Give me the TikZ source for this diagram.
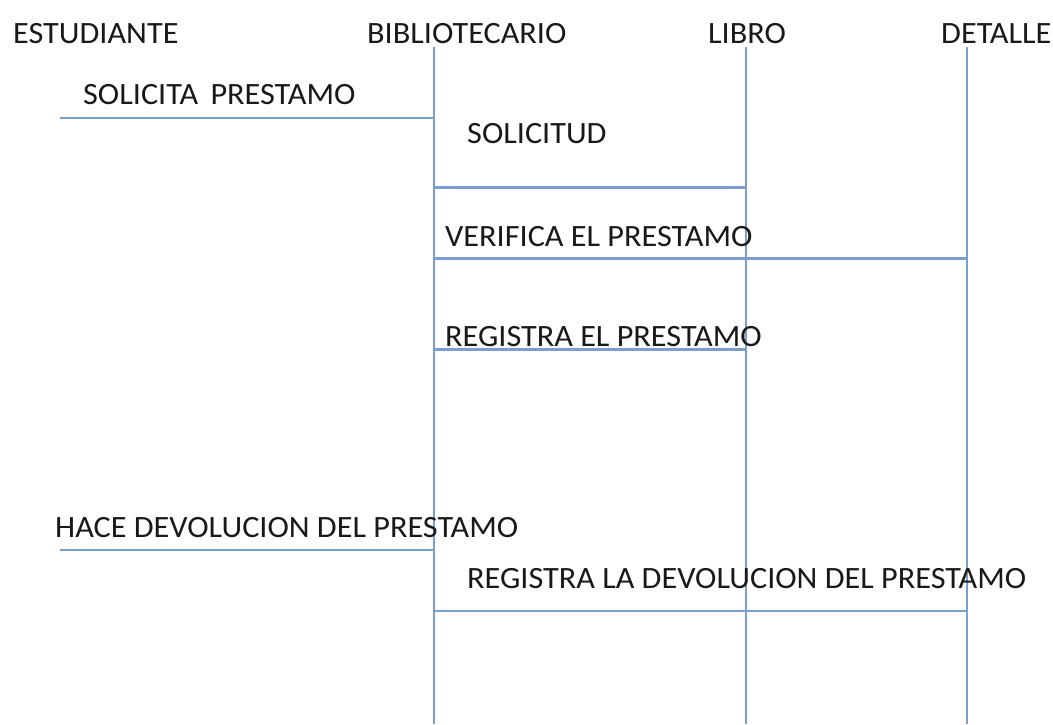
\documentclass[tikz,border=0pt]{standalone}
\usepackage{fontspec}
\setmainfont[FakeStretch=1.04]{Carlito}
\definecolor{lineblue}{RGB}{122,158,208}
\begin{document}
\begin{tikzpicture}[x=1pt,y=-1pt,
  lbl/.style={anchor=base west,inner sep=0pt,font=\fontsize{31}{36}\selectfont,text=black!90},
  lifeline/.style={draw=lineblue,line width=2pt},
  msg/.style={draw=lineblue,line width=2.8pt}]
\useasboundingbox[fill=white] (0,0) rectangle (1053,724);
% headers
\node[lbl] (hest) at (13,43.5) {ESTUDIANTE};
\node[lbl] (hbib) at (367,43.5) {BIBLIOTECARIO};
\node[lbl] (hlib) at (708,43.5) {LIBRO};
\node[lbl] (hdet) at (941,43.5) {DETALLE};
% lifelines
\coordinate (bt) at (434,47); \coordinate (bb) at (434,724);
\coordinate (lt) at (745.5,47); \coordinate (lb) at (745.5,724);
\coordinate (dt) at (966.5,47); \coordinate (db) at (966.5,724);
\draw[lifeline] (bt) -- (bb);
\draw[lifeline] (lt) -- (lb);
\draw[lifeline] (dt) -- (db);
% message end points
\coordinate (m1a) at (60,118);  \coordinate (m1b) at (434,118);
\coordinate (m2a) at (434,187.5); \coordinate (m2b) at (745.5,187.5);
\coordinate (m3a) at (434,258.5); \coordinate (m3b) at (966.5,258.5);
\coordinate (m4a) at (434,349.5); \coordinate (m4b) at (745.5,349.5);
\coordinate (m5a) at (60,550);  \coordinate (m5b) at (434,550);
\coordinate (m6a) at (434,611); \coordinate (m6b) at (966.5,611);
\draw[msg] (m1a) -- (m1b);
\draw[msg] (m2a) -- (m2b);
\draw[msg] (m3a) -- (m3b);
\draw[msg] (m4a) -- (m4b);
\draw[msg] (m5a) -- (m5b);
\draw[msg] (m6a) -- (m6b);
% message labels
\node[lbl] (t1) at (83,104) {SOLICITA\hspace{0.4em}PRESTAMO};
\node[lbl] (t2) at (467,143) {SOLICITUD};
\node[lbl] (t3) at (445,246) {VERIFICA EL PRESTAMO};
\node[lbl] (t4) at (445,346) {REGISTRA EL PRESTAMO};
\node[lbl] (t5) at (55,537) {HACE DEVOLUCION DEL PRESTAMO};
\node[lbl] (t6) at (467,588) {REGISTRA LA DEVOLUCION DEL PRESTAMO};
\end{tikzpicture}
\end{document}
